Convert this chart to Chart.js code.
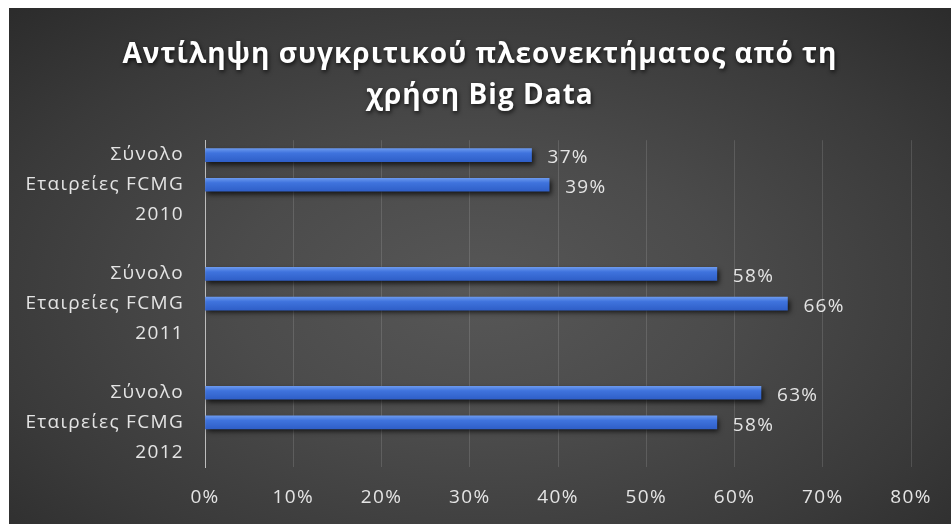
<!DOCTYPE html>
<html>
<head>
<meta charset="utf-8">
<script src="https://cdn.jsdelivr.net/npm/chart.js@4/dist/chart.umd.min.js"></script>
<style>
  html, body { margin: 0; padding: 0; background: #ffffff; }
  #box {
    position: absolute; left: 9px; top: 8px; width: 942px; height: 516px;
    background: radial-gradient(ellipse 75% 80% at 50% 55%, #575757 0%, #4b4b4b 35%, #3a3a3a 70%, #292929 100%);
  }
  canvas { display: block; }
</style>
</head>
<body>
<div id="box"><canvas id="c" width="942" height="516"></canvas></div>
<script>
// ---- data ----
const titleLines = ['Αντίληψη συγκριτικού πλεονεκτήματος από τη', 'χρήση Big Data'];
const years = ['2010', '2011', '2012'];
const seriesNames = ['Σύνολο', 'Εταιρείες FCMG'];
const totalValues = [37, 58, 63];
const fcmgValues = [39, 66, 58];
const xTickValues = [0, 10, 20, 30, 40, 50, 60, 70, 80];

// build row table: series rows, then year label row, then spacer row
const rowLabels = [];
const rowValues = [];
years.forEach((yr, i) => {
  rowLabels.push(seriesNames[0]); rowValues.push(totalValues[i]);
  rowLabels.push(seriesNames[1]); rowValues.push(fcmgValues[i]);
  rowLabels.push(yr); rowValues.push(null);
  if (i < years.length - 1) { rowLabels.push(''); rowValues.push(null); }
});

const LABEL_FONT = { family: '"Open Sans", "DejaVu Sans", sans-serif', size: 19 };
const LABEL_COLOR = '#e4e4e4';
const SPACING = '1.3px';

const spacingPlugin = {
  id: 'spacing',
  beforeUpdate(chart) { chart.ctx.letterSpacing = SPACING; },
  beforeDraw(chart) { chart.ctx.letterSpacing = SPACING; },
  afterInit(chart) {
    const tb = chart.titleBlock;
    if (tb) {
      const orig = tb.draw.bind(tb);
      tb.draw = function () {
        const ctx = chart.ctx;
        ctx.save();
        ctx.translate(20, 0);
        ctx.letterSpacing = '1px';
        ctx.shadowColor = 'rgba(0,0,0,0.75)';
        ctx.shadowBlur = 4;
        ctx.shadowOffsetX = 1;
        ctx.shadowOffsetY = 2;
        orig();
        ctx.restore();
        ctx.letterSpacing = SPACING;
      };
    }
  }
};

const shadowPlugin = {
  id: 'barShadow',
  beforeDatasetDraw(chart) {
    const ctx = chart.ctx;
    ctx.save();
    ctx.shadowColor = 'rgba(0,0,0,0.7)';
    ctx.shadowBlur = 5;
    ctx.shadowOffsetX = 2;
    ctx.shadowOffsetY = 3;
  },
  afterDatasetDraw(chart) { chart.ctx.restore(); }
};

const valueLabels = {
  id: 'valueLabels',
  afterDatasetsDraw(chart) {
    const ctx = chart.ctx;
    const meta = chart.getDatasetMeta(0);
    ctx.save();
    ctx.letterSpacing = SPACING;
    ctx.font = `${LABEL_FONT.size}px ${LABEL_FONT.family}`;
    ctx.fillStyle = LABEL_COLOR;
    ctx.textAlign = 'left';
    ctx.textBaseline = 'middle';
    meta.data.forEach((bar, i) => {
      const v = chart.data.datasets[0].data[i];
      if (v === null || v === undefined) return;
      ctx.fillText(v + '%', bar.x + 16, bar.y + 3);
    });
    ctx.restore();
  }
};

function barGradient(context) {
  const chart = context.chart;
  const ys = chart.scales.y;
  if (!ys || context.dataIndex === undefined) return '#4472c4';
  const y = ys.getPixelForValue(context.dataIndex);
  if (!isFinite(y)) return '#4472c4';
  const g = chart.ctx.createLinearGradient(0, y - 6.5, 0, y + 6.5);
  g.addColorStop(0, '#6a98ee');
  g.addColorStop(0.35, '#3f73dd');
  g.addColorStop(1, '#2f5fc8');
  return g;
}

new Chart(document.getElementById('c'), {
  type: 'bar',
  data: {
    labels: rowLabels,
    datasets: [{
      label: 'Αντίληψη',
      data: rowValues,
      backgroundColor: barGradient,
      borderWidth: 0,
      barThickness: 13
    }]
  },
  options: {
    indexAxis: 'y',
    responsive: false,
    animation: false,
    layout: { padding: { top: 7, right: 40, bottom: 0, left: 0 } },
    plugins: {
      legend: { display: false },
      tooltip: { enabled: false },
      title: {
        display: true,
        text: titleLines,
        color: '#ffffff',
        font: { family: '"Open Sans", "DejaVu Sans", sans-serif', size: 28, weight: 'bold', lineHeight: 1.45 },
        padding: { top: 20, bottom: 24 }
      }
    },
    scales: {
      x: {
        min: 0, max: 80,
        afterBuildTicks(scale) { scale.ticks = xTickValues.map(v => ({ value: v })); },
        afterFit(scale) { scale.height = 57; },
        grid: { color: 'rgba(255,255,255,0.13)', drawTicks: false, lineWidth: 1 },
        border: { display: false },
        ticks: {
          color: LABEL_COLOR, font: LABEL_FONT, padding: 19,
          callback: v => v + '%'
        }
      },
      y: {
        grid: { display: false, drawTicks: false },
        border: { display: true, color: '#bdbdbd', width: 1 },
        afterFit(scale) { scale.width = 196; },
        ticks: { color: LABEL_COLOR, font: LABEL_FONT, padding: 21, autoSkip: false }
      }
    }
  },
  plugins: [spacingPlugin, shadowPlugin, valueLabels]
});
</script>
</body>
</html>
